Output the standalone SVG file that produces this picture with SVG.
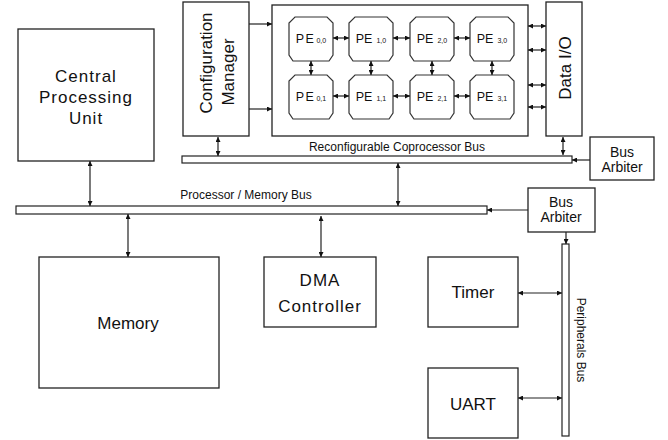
<svg xmlns="http://www.w3.org/2000/svg" width="668" height="440" viewBox="0 0 668 440">
  <style>
    .box { fill: #fff; stroke: #222; stroke-width: 1.3; }
    .bus { fill: #fff; stroke: #222; stroke-width: 1.2; }
    .pe { fill: #fff; stroke: #333; stroke-width: 1.2; }
    .lbl { font-family: "Liberation Sans", Arial, sans-serif; fill: #111; text-anchor: middle; }
    .big { font-size: 17px; }
    .mid { font-size: 14px; }
    .small { font-size: 12px; }
    .pet { font-size: 12.5px; }
    .sub { font-size: 7px; }
    .wire { fill: none; stroke: #222; stroke-width: 1.2; }
  </style>
  <defs>
    <marker id="head" viewBox="0 0 8 8" refX="8" refY="4" markerWidth="5" markerHeight="5" orient="auto-start-reverse" markerUnits="userSpaceOnUse">
      <path d="M0,0 L8,4 L0,8 z" fill="#111"/>
    </marker>
    <path id="peShape" d="M6,0 H38 L44,6 V38 L40,44 H4 L0,38 V6 z"/>
  </defs>

  <rect width="668" height="440" fill="#fff"/>

  <!-- Central Processing Unit -->
  <g id="cpu">
    <rect class="box" x="18" y="29" width="136" height="132"/>
    <text class="lbl big" x="86" y="82" letter-spacing="1">Central</text>
    <text class="lbl big" x="86" y="103" letter-spacing="1">Processing</text>
    <text class="lbl big" x="86" y="124" letter-spacing="1">Unit</text>
  </g>

  <!-- Configuration Manager -->
  <g id="config-manager">
    <rect class="box" x="183" y="2" width="66" height="134"/>
    <text class="lbl big" transform="translate(212,63) rotate(-90)" font-size="17.5">Configuration</text>
    <text class="lbl big" transform="translate(234,72) rotate(-90)" font-size="17.5">Manager</text>
  </g>

  <!-- PE array container -->
  <g id="pe-array">
    <rect class="box" x="272" y="5" width="256" height="131"/>
  </g>

  <!-- Processing elements -->
  <g id="pe00">
    <use href="#peShape" class="pe" x="289" y="17"/>
    <text class="lbl pet" x="311" y="43"><tspan letter-spacing="1.5">PE</tspan><tspan class="sub" dx="1">0,0</tspan></text>
  </g>
  <g id="pe10">
    <use href="#peShape" class="pe" x="349" y="17"/>
    <text class="lbl pet" x="371" y="43">PE<tspan class="sub" dx="4">1,0</tspan></text>
  </g>
  <g id="pe20">
    <use href="#peShape" class="pe" x="410" y="17"/>
    <text class="lbl pet" x="432" y="43">PE<tspan class="sub" dx="4">2,0</tspan></text>
  </g>
  <g id="pe30">
    <use href="#peShape" class="pe" x="470" y="17"/>
    <text class="lbl pet" x="492" y="43">PE<tspan class="sub" dx="4">3,0</tspan></text>
  </g>
  <g id="pe01">
    <use href="#peShape" class="pe" x="289" y="75"/>
    <text class="lbl pet" x="311" y="101"><tspan letter-spacing="1.5">PE</tspan><tspan class="sub" dx="1">0,1</tspan></text>
  </g>
  <g id="pe11">
    <use href="#peShape" class="pe" x="349" y="75"/>
    <text class="lbl pet" x="371" y="101">PE<tspan class="sub" dx="4">1,1</tspan></text>
  </g>
  <g id="pe21">
    <use href="#peShape" class="pe" x="410" y="75"/>
    <text class="lbl pet" x="432" y="101">PE<tspan class="sub" dx="4">2,1</tspan></text>
  </g>
  <g id="pe31">
    <use href="#peShape" class="pe" x="470" y="75"/>
    <text class="lbl pet" x="492" y="101">PE<tspan class="sub" dx="4">3,1</tspan></text>
  </g>

  <!-- Data I/O -->
  <g id="data-io">
    <rect class="box" x="546" y="2" width="36" height="134"/>
    <text class="lbl big" font-size="18" transform="translate(571,68) rotate(-90)">Data I/O</text>
  </g>

  <!-- Reconfigurable Coprocessor Bus -->
  <g id="coproc-bus">
    <rect class="bus" x="182" y="156" width="390" height="7"/>
    <text class="lbl small" x="397" y="151">Reconfigurable Coprocessor Bus</text>
  </g>

  <!-- Bus Arbiter (coprocessor) -->
  <g id="arbiter-coproc">
    <rect class="box" x="590" y="137" width="64" height="43"/>
    <text class="lbl mid" x="622" y="157">Bus</text>
    <text class="lbl mid" x="622" y="172">Arbiter</text>
  </g>

  <!-- Processor / Memory Bus -->
  <g id="proc-mem-bus">
    <rect class="bus" x="16" y="206" width="471" height="8"/>
    <text class="lbl small" x="246" y="199">Processor / Memory Bus</text>
  </g>

  <!-- Bus Arbiter (processor) -->
  <g id="arbiter-proc">
    <rect class="box" x="528" y="188" width="67" height="44"/>
    <text class="lbl mid" x="561" y="207">Bus</text>
    <text class="lbl mid" x="561" y="222">Arbiter</text>
  </g>

  <!-- Memory -->
  <g id="memory">
    <rect class="box" x="39" y="257" width="180" height="131"/>
    <text class="lbl big" x="128" y="329">Memory</text>
  </g>

  <!-- DMA Controller -->
  <g id="dma">
    <rect class="box" x="264" y="257" width="112" height="70"/>
    <text class="lbl big" x="320" y="286" font-size="16" letter-spacing="1">DMA</text>
    <text class="lbl big" x="320" y="312" font-size="16" letter-spacing="1">Controller</text>
  </g>

  <!-- Timer -->
  <g id="timer">
    <rect class="box" x="428" y="257" width="90" height="70"/>
    <text class="lbl big" x="473" y="298" font-size="18">Timer</text>
  </g>

  <!-- UART -->
  <g id="uart">
    <rect class="box" x="428" y="368" width="90" height="70"/>
    <text class="lbl big" x="473" y="410" font-size="18">UART</text>
  </g>

  <!-- Peripherals Bus -->
  <g id="periph-bus">
    <rect class="bus" x="562" y="244" width="7" height="192"/>
    <text class="lbl small" transform="translate(577,340) rotate(90)">Peripherals Bus</text>
  </g>

  <!-- Connectors -->
  <g id="connectors">
    <!-- configuration manager to PE array -->
    <line class="wire" x1="249" y1="24" x2="272" y2="24" marker-end="url(#head)"/>
    <line class="wire" x1="249" y1="109" x2="272" y2="109" marker-end="url(#head)"/>
    <!-- PE array to Data I/O -->
    <line class="wire" x1="528" y1="26" x2="546" y2="26" marker-start="url(#head)" marker-end="url(#head)"/>
    <line class="wire" x1="528" y1="50" x2="546" y2="50" marker-start="url(#head)" marker-end="url(#head)"/>
    <line class="wire" x1="528" y1="85" x2="546" y2="85" marker-start="url(#head)" marker-end="url(#head)"/>
    <line class="wire" x1="528" y1="107" x2="546" y2="107" marker-start="url(#head)" marker-end="url(#head)"/>
    <!-- PE row links -->
    <line class="wire" x1="333" y1="38" x2="349" y2="38" marker-start="url(#head)" marker-end="url(#head)"/>
    <line class="wire" x1="393" y1="38" x2="410" y2="38" marker-start="url(#head)" marker-end="url(#head)"/>
    <line class="wire" x1="454" y1="38" x2="470" y2="38" marker-start="url(#head)" marker-end="url(#head)"/>
    <line class="wire" x1="333" y1="96" x2="349" y2="96" marker-start="url(#head)" marker-end="url(#head)"/>
    <line class="wire" x1="393" y1="96" x2="410" y2="96" marker-start="url(#head)" marker-end="url(#head)"/>
    <line class="wire" x1="454" y1="96" x2="470" y2="96" marker-start="url(#head)" marker-end="url(#head)"/>
    <!-- PE column links -->
    <line class="wire" x1="311" y1="61" x2="311" y2="75" marker-start="url(#head)" marker-end="url(#head)"/>
    <line class="wire" x1="371" y1="61" x2="371" y2="75" marker-start="url(#head)" marker-end="url(#head)"/>
    <line class="wire" x1="432" y1="61" x2="432" y2="75" marker-start="url(#head)" marker-end="url(#head)"/>
    <line class="wire" x1="492" y1="61" x2="492" y2="75" marker-start="url(#head)" marker-end="url(#head)"/>
    <!-- coprocessor bus links -->
    <line class="wire" x1="218" y1="137" x2="218" y2="156" marker-start="url(#head)" marker-end="url(#head)"/>
    <line class="wire" x1="563" y1="137" x2="563" y2="155" marker-start="url(#head)" marker-end="url(#head)"/>
    <line class="wire" x1="590" y1="160" x2="572" y2="160" marker-end="url(#head)"/>
    <line class="wire" x1="398" y1="163" x2="398" y2="206" marker-start="url(#head)" marker-end="url(#head)"/>
    <!-- processor / memory bus links -->
    <line class="wire" x1="90" y1="161" x2="90" y2="206" marker-start="url(#head)" marker-end="url(#head)"/>
    <line class="wire" x1="128" y1="214" x2="128" y2="257" marker-start="url(#head)" marker-end="url(#head)"/>
    <line class="wire" x1="321" y1="216" x2="321" y2="257" marker-start="url(#head)" marker-end="url(#head)"/>
    <line class="wire" x1="528" y1="210" x2="487" y2="210" marker-end="url(#head)"/>
    <!-- peripherals bus links -->
    <line class="wire" x1="566" y1="232" x2="566" y2="244" marker-end="url(#head)"/>
    <line class="wire" x1="518" y1="293" x2="562" y2="293" marker-start="url(#head)" marker-end="url(#head)"/>
    <line class="wire" x1="518" y1="398" x2="562" y2="398" marker-start="url(#head)" marker-end="url(#head)"/>
  </g>
</svg>
